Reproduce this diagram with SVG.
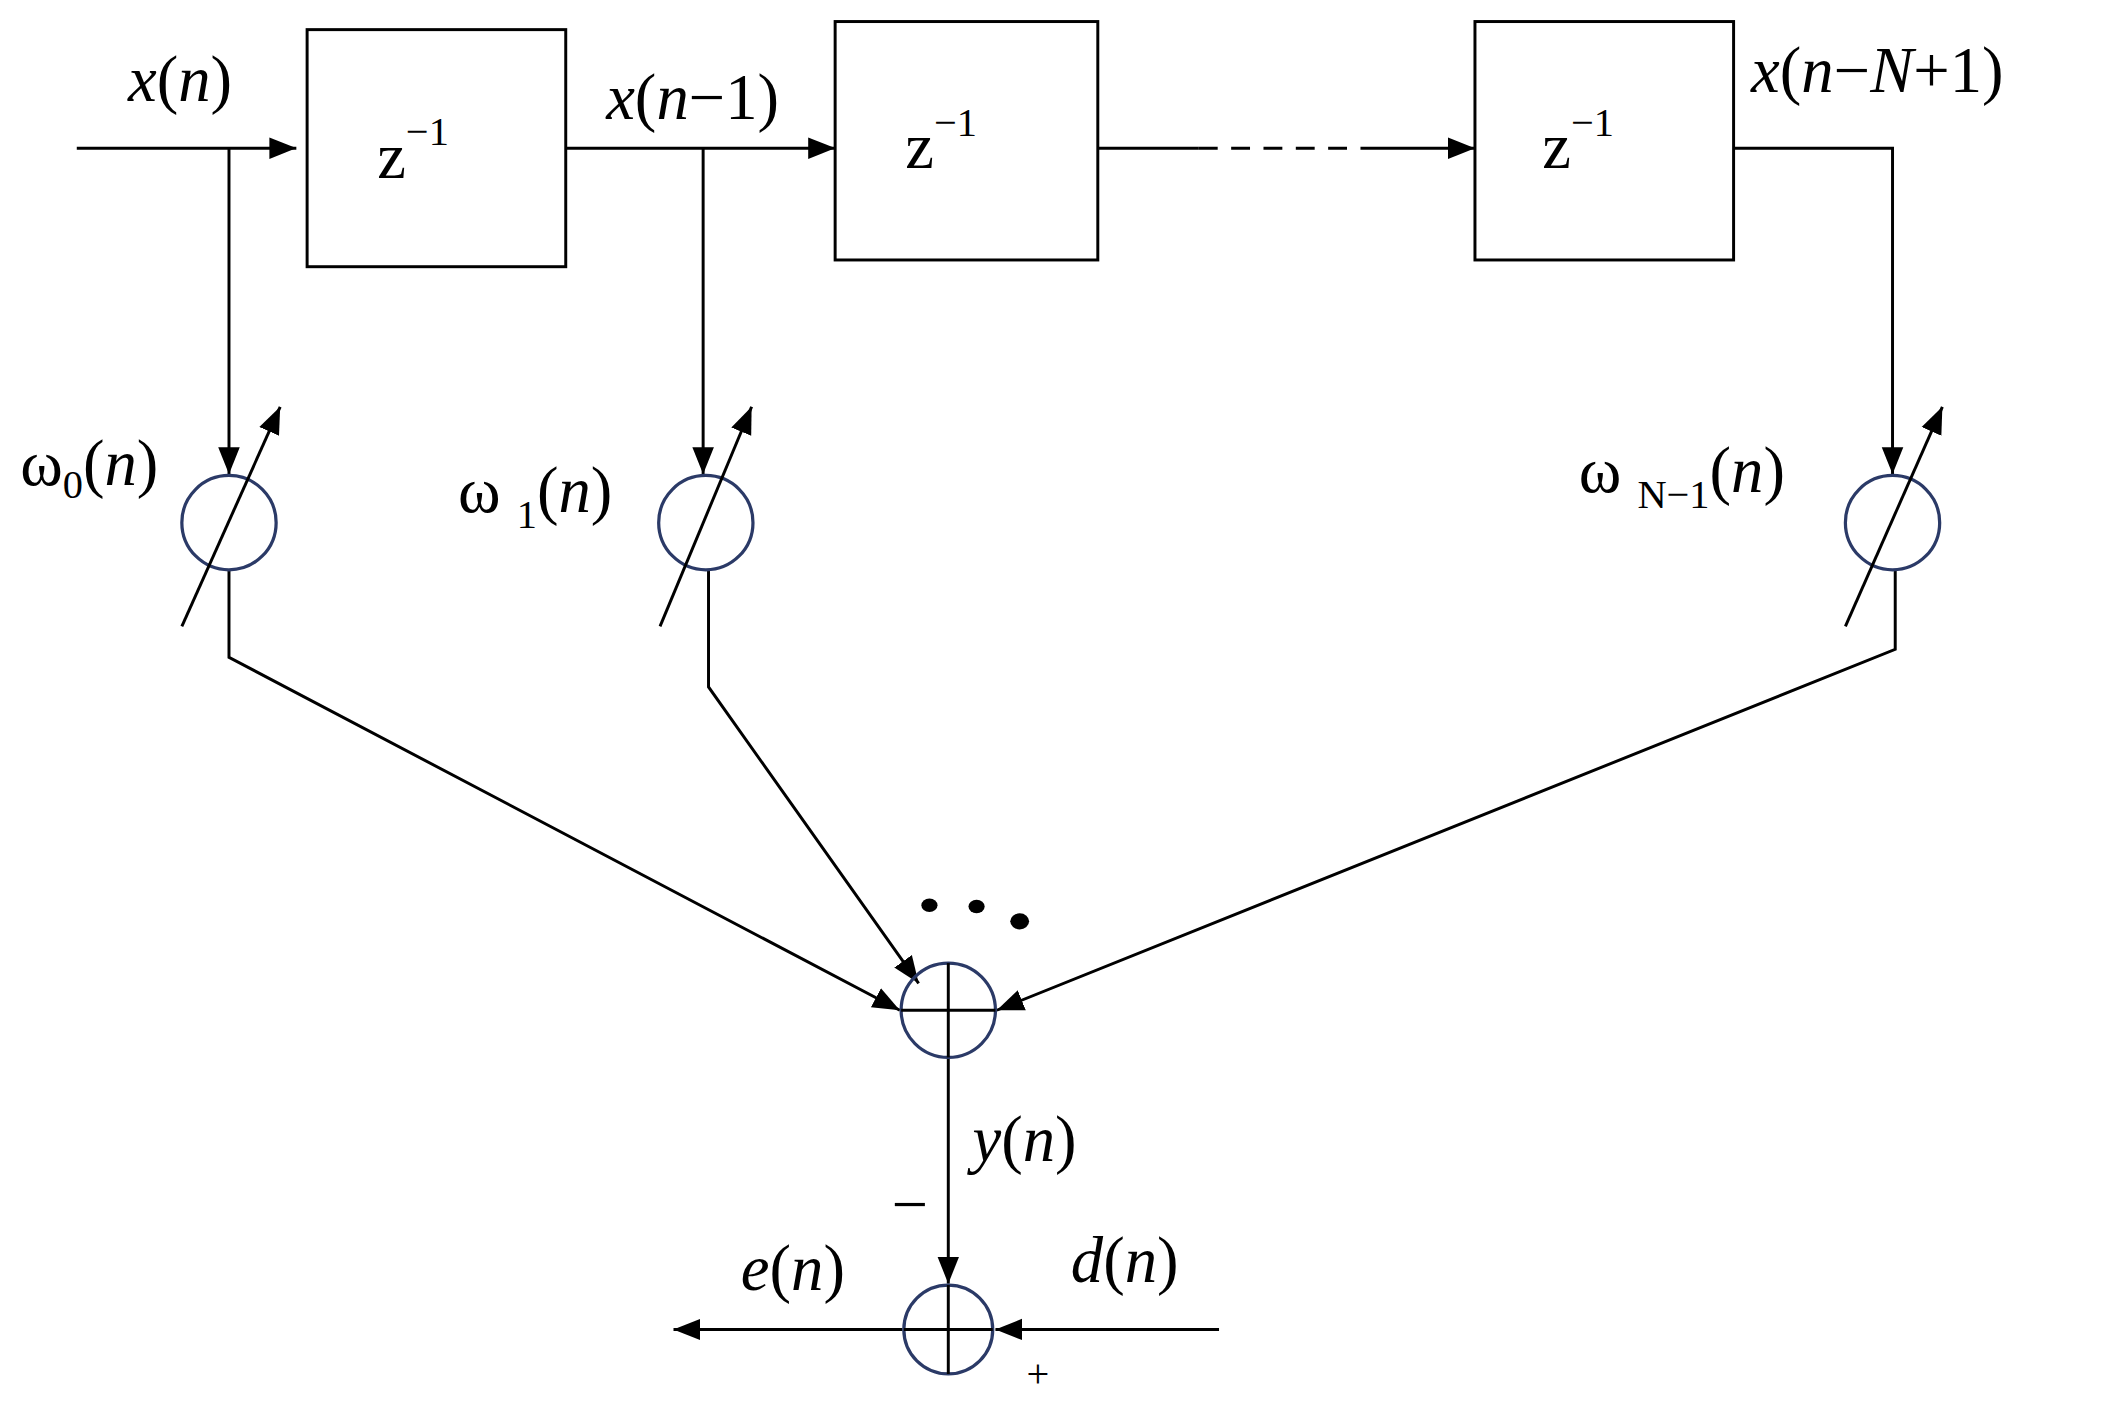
<svg xmlns="http://www.w3.org/2000/svg" width="2112" height="1417" viewBox="0 0 2112 1417">
<style>
.l{fill:none;stroke:#000;stroke-width:2.2}
.b{fill:#fff;stroke:#000;stroke-width:2.2}
.c{fill:none;stroke:#2b3a67;stroke-width:2.4}
.t{font-family:"Liberation Serif",serif;font-size:48px;fill:#000}
.s{font-family:"Liberation Serif",serif;font-size:30px;fill:#000}
</style>
<defs><marker id="a" viewBox="0 0 10 10" refX="10" refY="5" markerWidth="9" markerHeight="9" markerUnits="userSpaceOnUse" orient="auto"><path d="M0,0L10,5L0,10z" fill="#000"/></marker>
<marker id="ah" viewBox="0 0 10 10" refX="10" refY="5" markerWidth="20" markerHeight="20" markerUnits="userSpaceOnUse" orient="auto"><path d="M0,1L10,5L0,9z" fill="#000"/></marker></defs>
<rect width="2112" height="1417" fill="#fff"/>
<g transform="scale(1.347)">
<g id="connectors">
<line class="l" x1="57" y1="110" x2="220" y2="110" marker-end="url(#ah)"/>
<line class="l" x1="420" y1="110" x2="620" y2="110" marker-end="url(#ah)"/>
<line class="l" x1="815" y1="110" x2="890" y2="110"/>
<line class="l" x1="890" y1="110" x2="1010" y2="110" stroke-dasharray="14,10"/>
<line class="l" x1="1010" y1="110" x2="1095" y2="110" marker-end="url(#ah)"/>
<polyline class="l" points="1287,110 1405,110 1405,352" marker-end="url(#ah)"/>
<line class="l" x1="170" y1="110" x2="170" y2="352" marker-end="url(#ah)"/>
<line class="l" x1="522" y1="110" x2="522" y2="352" marker-end="url(#ah)"/>
<polyline class="l" points="170,423 170,488 668,750" marker-end="url(#ah)"/>
<polyline class="l" points="526,423 526,510 682,730" marker-end="url(#ah)"/>
<polyline class="l" points="1407,423 1407,482 740,750" marker-end="url(#ah)"/>
<line class="l" x1="704" y1="785" x2="704" y2="953" marker-end="url(#ah)"/>
<line class="l" x1="905" y1="987" x2="739" y2="987" marker-end="url(#ah)"/>
<line class="l" x1="670" y1="987" x2="500" y2="987" marker-end="url(#ah)"/>
</g>
<g id="d1"><rect class="b" x="228" y="22" width="192" height="176"/><text class="t" x="280" y="132">z<tspan class="s" dy="-24">−1</tspan></text></g>
<g id="d2"><rect class="b" x="620" y="16" width="195" height="177"/><text class="t" x="672" y="125">z<tspan class="s" dy="-24">−1</tspan></text></g>
<g id="d3"><rect class="b" x="1095" y="16" width="192" height="177"/><text class="t" x="1145" y="125">z<tspan class="s" dy="-24">−1</tspan></text></g>
<g id="w0"><circle class="c" cx="170" cy="388" r="35"/><line class="l" x1="135" y1="465" x2="208" y2="302" marker-end="url(#ah)"/></g>
<g id="w1"><circle class="c" cx="524" cy="388" r="35"/><line class="l" x1="490" y1="465" x2="558" y2="302" marker-end="url(#ah)"/></g>
<g id="wN"><circle class="c" cx="1405" cy="388" r="35"/><line class="l" x1="1370" y1="465" x2="1442" y2="302" marker-end="url(#ah)"/></g>
<g id="sum"><circle class="c" cx="704" cy="750" r="35"/><line class="l" x1="669" y1="750" x2="739" y2="750"/><line class="l" x1="704" y1="715" x2="704" y2="785"/>
<ellipse cx="690" cy="672" rx="6" ry="5"/><ellipse cx="725" cy="673" rx="6" ry="5"/><ellipse cx="757" cy="684" rx="7" ry="6"/></g>
<g id="err"><circle class="c" cx="704" cy="987" r="33"/><line class="l" x1="671" y1="987" x2="737" y2="987"/><line class="l" x1="704" y1="954" x2="704" y2="1020"/></g>
<g id="labels">
<text class="t" x="95" y="75"><tspan font-style="italic">x</tspan>(<tspan font-style="italic">n</tspan>)</text>
<text class="t" x="450" y="88"><tspan font-style="italic">x</tspan>(<tspan font-style="italic">n</tspan>−1)</text>
<text class="t" x="1300" y="68"><tspan font-style="italic">x</tspan>(<tspan font-style="italic">n</tspan>−<tspan font-style="italic">N</tspan>+1)</text>
<text class="t" x="15" y="360">ω<tspan class="s" dy="10">0</tspan><tspan dy="-10">(</tspan><tspan font-style="italic">n</tspan>)</text>
<text class="t" x="340" y="380">ω <tspan class="s" dy="12">1</tspan><tspan dy="-12">(</tspan><tspan font-style="italic">n</tspan>)</text>
<text class="t" x="1172" y="365">ω <tspan class="s" dy="12">N−1</tspan><tspan dy="-12">(</tspan><tspan font-style="italic">n</tspan>)</text>
<text class="t" x="722" y="862"><tspan font-style="italic">y</tspan>(<tspan font-style="italic">n</tspan>)</text>
<text class="t" x="662" y="910">−</text>
<text class="t" x="550" y="958"><tspan font-style="italic">e</tspan>(<tspan font-style="italic">n</tspan>)</text>
<text class="t" x="795" y="952"><tspan font-style="italic">d</tspan>(<tspan font-style="italic">n</tspan>)</text>
<text class="s" x="762" y="1030" font-size="40">+</text>
</g>
</g>
</svg>
